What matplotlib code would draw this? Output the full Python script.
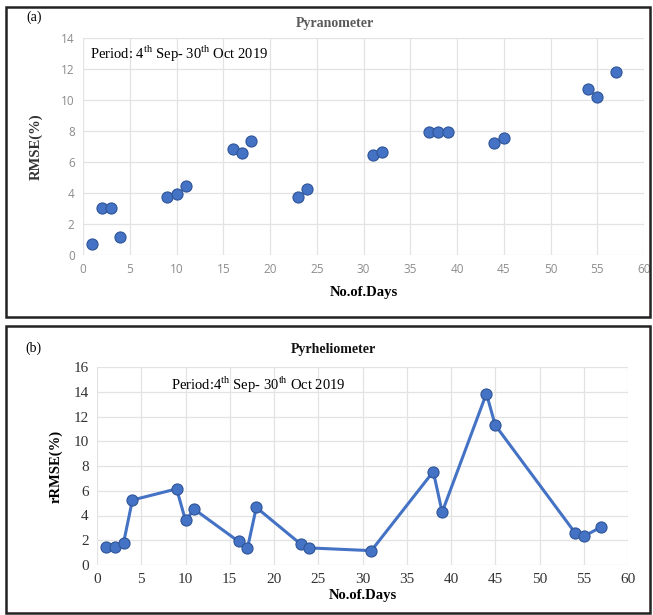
"""
RMSE of pyranometer and rRMSE of pyrheliometer against number of days.
"""

import matplotlib
matplotlib.use("Agg")
import matplotlib.pyplot as plt
from matplotlib.patches import Rectangle

plt.rcParams['mathtext.fontset'] = 'custom'
plt.rcParams['mathtext.rm'] = 'Liberation Serif'

# Pyranometer (a)
pyr_days = [1, 2, 3, 4, 9, 10, 11, 16, 17, 18, 23, 24, 31, 32, 37, 38, 39, 44, 45, 54, 55, 57]
pyr_rmse = [0.71, 3.03, 3.0, 1.16, 3.76, 3.92, 4.47, 6.82, 6.56, 7.38, 3.72, 4.28,
            6.45, 6.65, 7.93, 7.93, 7.93, 7.2, 7.55, 10.7, 10.2, 11.8]

# Pyrheliometer (b)
phl_days = [1, 2, 3, 4, 9, 10, 11, 16, 17, 18, 23, 24, 31, 38, 39, 44, 45, 54, 55, 57]
phl_rrmse = [1.43, 1.43, 1.78, 5.25, 6.15, 3.6, 4.5, 1.9, 1.35, 4.65, 1.7, 1.38,
             1.16, 7.55, 4.27, 13.85, 11.3, 2.62, 2.32, 3.08]

x_ticks = list(range(0, 61, 5))
ya_ticks = list(range(0, 15, 2))
yb_ticks = list(range(0, 17, 2))

period_text = r'Period: 4$^{\rm th}$ Sep- 30$^{\rm th}$ Oct 2019'
period_text_b = r'Period:4$^{\rm th}$ Sep- 30$^{\rm th}$ Oct 2019'

BLUE = '#4472C4'
EDGE = '#2f5597'
GRID = '#e3e3e3'
SERIF = 'Liberation Serif'
SANS = 'Open Sans'

W, H = 653, 615
fig = plt.figure(figsize=(W / 100, H / 100), dpi=100)


def fx(px):
    return px / W


def fy(py):
    return 1 - py / H


# panel borders
for (x0, y0, x1, y1) in [(6, 7, 650, 317), (6, 326, 650, 613)]:
    fig.patches.append(Rectangle((fx(x0), fy(y1)), fx(x1) - fx(x0), fy(y0) - fy(y1),
                                 transform=fig.transFigure, fill=False,
                                 edgecolor='#222222', linewidth=1.8))


def style_axes(ax):
    for s in ax.spines.values():
        s.set_visible(False)
    ax.grid(True, color=GRID, linewidth=0.9)
    ax.set_axisbelow(True)
    ax.tick_params(length=0, pad=6)


# ---- (a) Pyranometer ----
ax1 = fig.add_axes([fx(83), fy(255), fx(644) - fx(83), fy(38) - fy(255)])
style_axes(ax1)
ax1.plot(pyr_days, pyr_rmse, linestyle='none', marker='o', markersize=8,
         markerfacecolor=BLUE, markeredgecolor=EDGE, markeredgewidth=0.8)
ax1.set_xlim(0, 60)
ax1.set_ylim(0, 14)
ax1.set_xticks(x_ticks)
ax1.set_yticks(ya_ticks)
for lab in ax1.get_xticklabels() + ax1.get_yticklabels():
    lab.set_fontfamily(SANS)
    lab.set_fontsize(8.5)
    lab.set_color('#8c8c8c')
ax1.set_xlabel('No.of.Days', fontfamily=SERIF, fontweight='bold', fontsize=10.5, labelpad=7)
ax1.set_ylabel('RMSE(%)', fontfamily=SERIF, fontweight='bold', fontsize=10.5,
               color='#333333', labelpad=13)
ax1.text(0.012, 0.925, period_text, transform=ax1.transAxes, fontfamily=SERIF,
         fontsize=10.5, ha='left', va='center')
fig.text(fx(335), fy(24), 'Pyranometer', fontfamily=SERIF, fontweight='bold',
         fontsize=10, color='#595959', ha='center', va='center')
fig.text(fx(34), fy(17), '(a)', fontfamily=SERIF, fontsize=10, ha='center', va='center')

# ---- (b) Pyrheliometer ----
ax2 = fig.add_axes([fx(97), fy(565), fx(628) - fx(97), fy(367) - fy(565)])
style_axes(ax2)
ax2.plot(phl_days, phl_rrmse, color=BLUE, linewidth=2.2, marker='o', markersize=8,
         markerfacecolor=BLUE, markeredgecolor=EDGE, markeredgewidth=0.8)
ax2.set_xlim(0, 60)
ax2.set_ylim(0, 16)
ax2.set_xticks(x_ticks)
ax2.set_yticks(yb_ticks)
for lab in ax2.get_xticklabels() + ax2.get_yticklabels():
    lab.set_fontfamily(SERIF)
    lab.set_fontsize(11)
    lab.set_color('#333333')
ax2.set_xlabel('No.of.Days', fontfamily=SERIF, fontweight='bold', fontsize=10.5, labelpad=2)
ax2.set_ylabel('rRMSE(%)', fontfamily=SERIF, fontweight='bold', fontsize=10.5, labelpad=8)
ax2.text(0.14, 0.91, period_text_b, transform=ax2.transAxes, fontfamily=SERIF,
         fontsize=10.5, ha='left', va='center')
fig.text(fx(333), fy(349), 'Pyrheliometer', fontfamily=SERIF, fontweight='bold',
         fontsize=10, color='#111111', ha='center', va='center')
fig.text(fx(33), fy(348), '(b)', fontfamily=SERIF, fontsize=10, ha='center', va='center')

fig.savefig('out.png', dpi=100)
